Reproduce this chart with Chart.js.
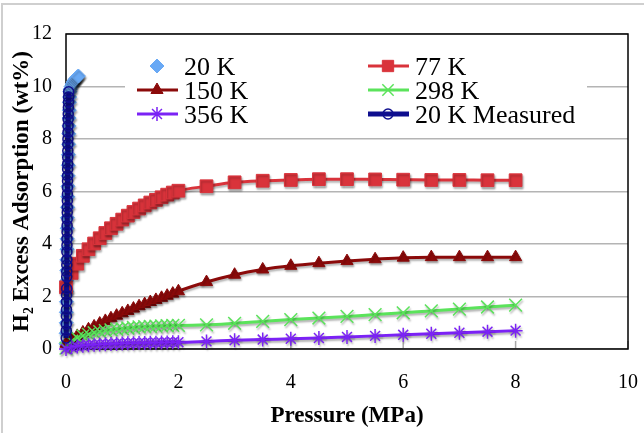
<!DOCTYPE html>
<html>
<head>
<meta charset="utf-8">
<script src="https://cdn.jsdelivr.net/npm/chart.js@4.4.1/dist/chart.umd.min.js"></script>
<style>
  html, body { margin: 0; padding: 0; background: #fff; }
</style>
</head>
<body>
<canvas id="chart" width="644" height="433"></canvas>
<script>
// Pressure grid shared by the model isotherms (MPa)
const pressureModel = [0, 0.1, 0.2, 0.3, 0.4, 0.5, 0.6, 0.7, 0.8, 0.9, 1.0, 1.1, 1.2, 1.3, 1.4, 1.5, 1.6, 1.7, 1.8, 1.9, 2.0,
    2.5, 3.0, 3.5, 4.0, 4.5, 5.0, 5.5, 6.0, 6.5, 7.0, 7.5, 8.0];
const ads77 = [2.35, 2.9, 3.25, 3.55, 3.8, 4.02, 4.22, 4.42, 4.6, 4.77, 4.93, 5.08, 5.22, 5.35, 5.47, 5.58, 5.68, 5.78, 5.88, 5.96, 6.03,
    6.2, 6.35, 6.41, 6.44, 6.47, 6.47, 6.46, 6.45, 6.44, 6.44, 6.43, 6.43];
const ads150 = [0.2, 0.36, 0.5, 0.63, 0.75, 0.86, 0.97, 1.07, 1.17, 1.27, 1.36, 1.45, 1.54, 1.63, 1.71, 1.79, 1.87, 1.95, 2.03, 2.11, 2.2,
    2.55, 2.83, 3.03, 3.17, 3.27, 3.35, 3.42, 3.48, 3.5, 3.5, 3.5, 3.5];
const ads298 = [0.03, 0.3, 0.42, 0.5, 0.56, 0.62, 0.66, 0.7, 0.73, 0.76, 0.78, 0.8, 0.82, 0.84, 0.85, 0.86, 0.87, 0.88, 0.89, 0.9, 0.9,
    0.92, 0.98, 1.05, 1.12, 1.18, 1.24, 1.31, 1.38, 1.45, 1.52, 1.6, 1.67];
const ads356 = [0.0, 0.07, 0.1, 0.12, 0.14, 0.16, 0.17, 0.18, 0.19, 0.2, 0.21, 0.22, 0.22, 0.23, 0.23, 0.24, 0.24, 0.25, 0.25, 0.26, 0.26,
    0.29, 0.33, 0.36, 0.39, 0.42, 0.46, 0.5, 0.54, 0.58, 0.62, 0.66, 0.7];

// 20 K model, steep rise right at zero pressure
const pressure20 = [0.000, 0.002, 0.004, 0.006, 0.008, 0.010, 0.012, 0.014, 0.016, 0.018, 0.020, 0.022, 0.025, 0.028, 0.031, 0.034,
    0.037, 0.040, 0.043, 0.046, 0.049, 0.052, 0.055, 0.058, 0.061, 0.064, 0.068, 0.075, 0.09, 0.11, 0.13, 0.15, 0.17, 0.19, 0.205, 0.22];
const ads20 = [0.2, 0.6, 1.0, 1.4, 1.8, 2.2, 2.6, 3.0, 3.4, 3.8, 4.2, 4.6, 5.0, 5.4, 5.8, 6.2,
    6.6, 7.0, 7.4, 7.8, 8.2, 8.5, 8.8, 9.1, 9.4, 9.6, 9.8, 9.9, 10.0, 10.1, 10.18, 10.24, 10.29, 10.33, 10.37, 10.4];

// 20 K measured
const pressureMeasured = [0.004, 0.005, 0.006, 0.007, 0.008, 0.009, 0.010, 0.011, 0.012, 0.013, 0.014, 0.015, 0.016, 0.017, 0.018,
    0.019, 0.020, 0.021, 0.022, 0.023, 0.024, 0.025, 0.026, 0.027, 0.028, 0.029, 0.030, 0.031, 0.032, 0.033, 0.034, 0.035, 0.036,
    0.038, 0.040, 0.042, 0.044, 0.046, 0.048];
const adsMeasured = [0.42, 0.7, 0.95, 1.25, 1.5, 1.8, 2.05, 2.3, 2.75, 2.95, 3.2, 3.4, 3.7, 3.95, 4.2, 4.45, 4.7, 4.95, 5.2, 5.4,
    5.65, 5.9, 6.15, 6.4, 6.6, 6.85, 7.05, 7.3, 7.55, 7.8, 8.0, 8.25, 8.5, 8.75, 8.95, 9.2, 9.4, 9.6, 9.8];

const xMax = 10, xStep = 2;
const yMax = 12, yStep = 2;

const SERIF = '"Liberation Serif", "Times New Roman", serif';

function pairs(xs, ys) {
    return xs.map((x, i) => ({x: x, y: ys[i]}));
}

function series(label, data, color, pointStyle, radius, order, extra) {
    return Object.assign({
        label: label,
        data: data,
        order: order,
        showLine: true,
        borderColor: color,
        borderWidth: 3,
        pointStyle: pointStyle,
        pointRadius: radius,
        pointBackgroundColor: color,
        pointBorderColor: color,
        pointBorderWidth: 1,
        cubicInterpolationMode: 'monotone',
        clip: false,
    }, extra || {});
}

const datasets = [
    series("20 K", pairs(pressure20, ads20), '#69a9f5', 'rectRot', 7, 6, {showLine: false}),
    series("77 K", pairs(pressureModel, ads77), '#d9333b', 'rect', 9, 5),
    series("150 K", pairs(pressureModel, ads150), '#8b0a0a', 'triangle', 7, 4),
    series("298 K", pairs(pressureModel, ads298), '#5be35b', 'crossRot', 9, 3, {pointBorderWidth: 1.5}),
    series("356 K", pairs(pressureModel, ads356), '#7b22f5', 'star', 7, 2, {pointBorderWidth: 1.5}),
    series("20 K Measured", pairs(pressureMeasured, adsMeasured), '#0e0e8e', 'circle', 5, 1,
        {borderWidth: 5, pointBackgroundColor: 'rgba(0,0,0,0)', pointBorderWidth: 1.5}),
];

// Page frame, black plot box and the small inside ticks of the x axis
const framePlugin = {
    id: 'frame',
    beforeDraw(chart) {
        const ctx = chart.ctx;
        ctx.save();
        ctx.fillStyle = '#fff';
        ctx.fillRect(0, 0, chart.width, chart.height);
        ctx.strokeStyle = '#cfcfcf';
        ctx.lineWidth = 2;
        ctx.strokeRect(2, 4, chart.width + 10, chart.height + 10);
        ctx.restore();
    },
    beforeDatasetsDraw(chart) {
        const a = chart.chartArea, ctx = chart.ctx;
        const xs = chart.scales.x;
        ctx.save();
        ctx.strokeStyle = '#a8a8a8';
        ctx.lineWidth = 1.5;
        xs.ticks.forEach(t => {
            const px = xs.getPixelForValue(t.value);
            ctx.beginPath();
            ctx.moveTo(px, a.bottom);
            ctx.lineTo(px, a.bottom - 8);
            ctx.stroke();
        });
        ctx.strokeStyle = '#000';
        ctx.lineWidth = 1.5;
        ctx.strokeRect(a.left, a.top, a.right - a.left, a.bottom - a.top);
        ctx.restore();
    },
};

// Excel-like drop shadow on every series
const shadowPlugin = {
    id: 'shadow',
    beforeDatasetDraw(chart) {
        const ctx = chart.ctx;
        ctx.save();
        ctx.shadowColor = 'rgba(0,0,0,0.3)';
        ctx.shadowOffsetX = 1;
        ctx.shadowOffsetY = 2;
        ctx.shadowBlur = 2;
    },
    afterDatasetDraw(chart) {
        chart.ctx.restore();
    },
};

// Two-column legend sitting inside the plot
const legendPlugin = {
    id: 'insideLegend',
    afterDraw(chart) {
        const ctx = chart.ctx;
        const a = chart.chartArea;
        ctx.save();
        ctx.fillStyle = '#fff';
        ctx.fillRect(a.left + 59, a.top + 8, 462, 92);
        const cols = [a.left + 71, a.left + 302];
        const rows = [a.top + 32, a.top + 56, a.top + 80];
        chart.data.datasets.forEach((ds, i) => {
            const x0 = cols[i % 2], y = rows[Math.floor(i / 2)];
            if (ds.showLine) {
                ctx.strokeStyle = ds.borderColor;
                ctx.lineWidth = ds.borderWidth;
                ctx.beginPath();
                ctx.moveTo(x0, y);
                ctx.lineTo(x0 + 41, y);
                ctx.stroke();
            }
            ctx.fillStyle = ds.pointBackgroundColor;
            ctx.strokeStyle = ds.pointBorderColor;
            ctx.lineWidth = ds.pointBorderWidth;
            Chart.helpers.drawPoint(ctx, {
                pointStyle: ds.pointStyle,
                radius: Math.min(ds.pointRadius, 8),
                borderWidth: ds.pointBorderWidth,
                rotation: 0,
            }, x0 + 20, y);
            ctx.fillStyle = '#000';
            ctx.font = '26px ' + SERIF;
            ctx.textBaseline = 'middle';
            ctx.textAlign = 'left';
            ctx.fillText(ds.label, x0 + 47, y + 2);
        });
        ctx.restore();
    },
};

Chart.defaults.color = '#000';

new Chart("chart", {
    type: 'scatter',
    data: {datasets: datasets},
    options: {
        responsive: false,
        animation: false,
        layout: {padding: {left: 0, right: 16, top: 34, bottom: 0}},
        plugins: {
            legend: {display: false},
            tooltip: {enabled: false},
        },
        scales: {
            x: {
                type: 'linear',
                min: 0,
                max: xMax,
                afterFit: s => { s.height = 84; s.paddingLeft = 0; s.paddingRight = 0; },
                ticks: {stepSize: xStep, padding: 22, font: {family: SERIF, size: 20}},
                grid: {display: false, drawTicks: false},
                border: {display: false},
                title: {
                    display: true,
                    text: 'Pressure (MPa)',
                    font: {family: SERIF, size: 23, weight: 'bold'},
                    padding: {top: 0, bottom: 3},
                },
            },
            y: {
                min: 0,
                max: yMax,
                afterFit: s => { s.width = 66; s.paddingTop = 0; s.paddingBottom = 0; },
                ticks: {stepSize: yStep, padding: 14, font: {family: SERIF, size: 20}},
                grid: {color: '#b4b4b4', lineWidth: 1.5, drawTicks: false},
                border: {display: false},
                title: {
                    display: true,
                    text: 'H₂ Excess Adsorption (wt%)',
                    font: {family: SERIF, size: 23, weight: 'bold'},
                    padding: {top: 8, bottom: 0},
                },
            },
        },
    },
    plugins: [framePlugin, shadowPlugin, legendPlugin],
});
</script>
</body>
</html>
